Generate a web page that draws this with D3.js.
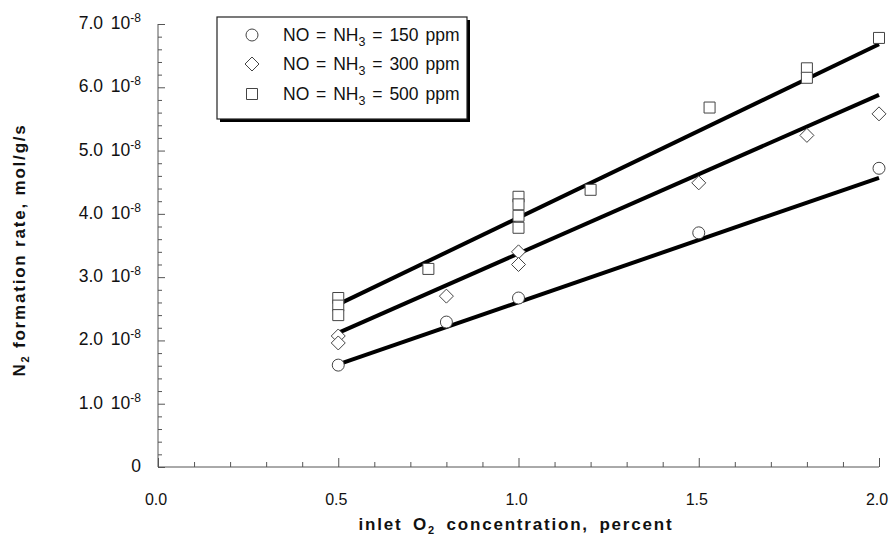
<!DOCTYPE html>
<html>
<head>
<meta charset="utf-8">
<script src="https://cdn.jsdelivr.net/npm/d3@7"></script>
<style>
  html, body { margin: 0; padding: 0; background: #fff; }
  svg { display: block; font-family: "Liberation Sans", Arial, Helvetica, sans-serif; }
</style>
</head>
<body>
<svg id="chart" width="894" height="544"></svg>
<script>
// ---- data (rates in units of 1e-8 mol/g/s) ----
const seriesLabels = ["150", "300", "500"];
const o2_150   = [0.5, 0.8, 1.0, 1.5, 2.0];
const rate_150 = [1.61, 2.29, 2.67, 3.70, 4.72];
const o2_300   = [0.5, 0.5, 0.8, 1.0, 1.0, 1.5, 1.8, 2.0];
const rate_300 = [2.07, 1.96, 2.70, 3.40, 3.20, 4.49, 5.24, 5.58];
const o2_500   = [0.5, 0.5, 0.5, 0.75, 1.0, 1.0, 1.0, 1.0, 1.2, 1.53, 1.8, 1.8, 2.0];
const rate_500 = [2.67, 2.55, 2.40, 3.13, 4.27, 4.15, 3.97, 3.78, 4.38, 5.68, 6.30, 6.15, 6.78];
const fitX     = [0.5, 2.0];
const fit_150  = [1.62, 4.57];
const fit_300  = [2.12, 5.88];
const fit_500  = [2.57, 6.68];
const xTicks = [0.0, 0.5, 1.0, 1.5, 2.0];
const yTicks = [0, 1, 2, 3, 4, 5, 6, 7];

const svg = d3.select("#chart");
const x = d3.scaleLinear().domain([0, 2]).range([158, 879]);
const y = d3.scaleLinear().domain([0, 7]).range([467, 24]);
const axisColor = "#555";

// ---- axes ----
const xAxisG = svg.append("g").attr("transform", `translate(0,${y(0)})`);
xAxisG.call(d3.axisBottom(x).tickValues(d3.range(0, 2.0001, 0.1)).tickSize(-5).tickFormat(""));
xAxisG.selectAll(".tick line").attr("stroke", axisColor);
xAxisG.selectAll(".tick").filter(d => Math.abs(d * 2 - Math.round(d * 2)) < 1e-6)
  .select("line").attr("y2", -9);
xAxisG.select(".domain").attr("stroke", axisColor).attr("d", `M${x(0)},0H${x(2)}`);

const yAxisG = svg.append("g").attr("transform", `translate(${x(0)},0)`);
yAxisG.call(d3.axisLeft(y).tickValues(d3.range(0, 7.0001, 0.2)).tickSize(-4).tickFormat(""));
yAxisG.selectAll(".tick line").attr("stroke", axisColor);
yAxisG.selectAll(".tick").filter(d => Math.abs(d - Math.round(d)) < 1e-6)
  .select("line").attr("x2", 7);
yAxisG.select(".domain").attr("stroke", axisColor).attr("d", `M0,${y(0)}V${y(7)}`);

// x tick labels
svg.append("g").selectAll("text").data(xTicks).join("text")
  .attr("x", d => x(d) - 2)
  .attr("y", 505)
  .attr("text-anchor", "middle")
  .attr("font-size", 16)
  .attr("fill", "#111")
  .text(d => d.toFixed(1));

// y tick labels
const yl = svg.append("g").selectAll("text").data(yTicks).join("text")
  .attr("x", 141)
  .attr("y", d => y(d) + 5)
  .attr("text-anchor", "end")
  .attr("font-size", 17.5)
  .attr("word-spacing", 3)
  .attr("fill", "#111");
yl.each(function(d) {
  const t = d3.select(this);
  if (d === 0) { t.text("0"); return; }
  t.append("tspan").text(d.toFixed(1) + " 10");
  t.append("tspan").attr("dy", -7).attr("font-size", 12).text("-8");
});

// axis titles
const xt = svg.append("text")
  .attr("x", 516).attr("y", 530)
  .attr("text-anchor", "middle")
  .attr("font-size", 17).attr("font-weight", "bold")
  .attr("letter-spacing", 1.8).attr("word-spacing", 4).attr("fill", "#111");
xt.append("tspan").text("inlet O");
xt.append("tspan").attr("dy", 4).attr("font-size", 11).text("2");
xt.append("tspan").attr("dy", -4).text(" concentration, percent");

const yt = svg.append("text")
  .attr("transform", "translate(25,250) rotate(-90)")
  .attr("text-anchor", "middle")
  .attr("font-size", 17).attr("font-weight", "bold")
  .attr("letter-spacing", 1.8).attr("fill", "#111");
yt.append("tspan").text("N");
yt.append("tspan").attr("dy", 4).attr("font-size", 11).text("2");
yt.append("tspan").attr("dy", -4).text(" formation rate, mol/g/s");

// ---- fit lines ----
const line = d3.line().x(d => x(d[0])).y(d => y(d[1]));
[fit_150, fit_300, fit_500].forEach(f => {
  svg.append("path")
    .datum(fitX.map((v, i) => [v, f[i]]))
    .attr("d", line)
    .attr("fill", "none")
    .attr("stroke", "#000")
    .attr("stroke-width", 4);
});

// ---- markers ----
const markerStroke = "#444";
const symCircle = d3.symbol().type(d3.symbolCircle).size(Math.PI * 36);
const symSquare = d3.symbol().type(d3.symbolSquare).size(121);
const diamondPath = () => "M0,-7L7,0L0,7L-7,0Z";

function drawMarkers(xs, ys, pathFn) {
  svg.append("g").selectAll("path").data(xs.map((v, i) => [v, ys[i]])).join("path")
    .attr("transform", d => `translate(${x(d[0])},${y(d[1])})`)
    .attr("d", pathFn)
    .attr("fill", "#fff")
    .attr("stroke", markerStroke)
    .attr("stroke-width", 1);
}
drawMarkers(o2_150, rate_150, () => symCircle());
drawMarkers(o2_300, rate_300, diamondPath);
drawMarkers(o2_500, rate_500, () => symSquare());

// ---- legend ----
const lg = svg.append("g");
const lgX = 217, lgY = 17, lgW = 250, lgH = 102;
lg.append("rect").attr("x", lgX + 3).attr("y", lgY + 3).attr("width", lgW).attr("height", lgH).attr("fill", "#000");
lg.append("rect").attr("x", lgX).attr("y", lgY).attr("width", lgW).attr("height", lgH)
  .attr("fill", "#fff").attr("stroke", "#222").attr("stroke-width", 1.2);
const legendItems = [
  { label: seriesLabels[0], y: 35, d: () => symCircle() },
  { label: seriesLabels[1], y: 64, d: diamondPath },
  { label: seriesLabels[2], y: 94, d: () => symSquare() }
];
legendItems.forEach(it => {
  lg.append("path").attr("transform", `translate(252,${it.y})`).attr("d", it.d())
    .attr("fill", "#fff").attr("stroke", markerStroke).attr("stroke-width", 1);
  const t = lg.append("text").attr("x", 283).attr("y", it.y + 6)
    .attr("font-size", 17.5).attr("word-spacing", 2).attr("fill", "#111");
  t.append("tspan").text("NO = NH");
  t.append("tspan").attr("dy", 5).attr("font-size", 12.5).text("3");
  t.append("tspan").attr("dy", -5).text(" = " + it.label + " ppm");
});
</script>
</body>
</html>
